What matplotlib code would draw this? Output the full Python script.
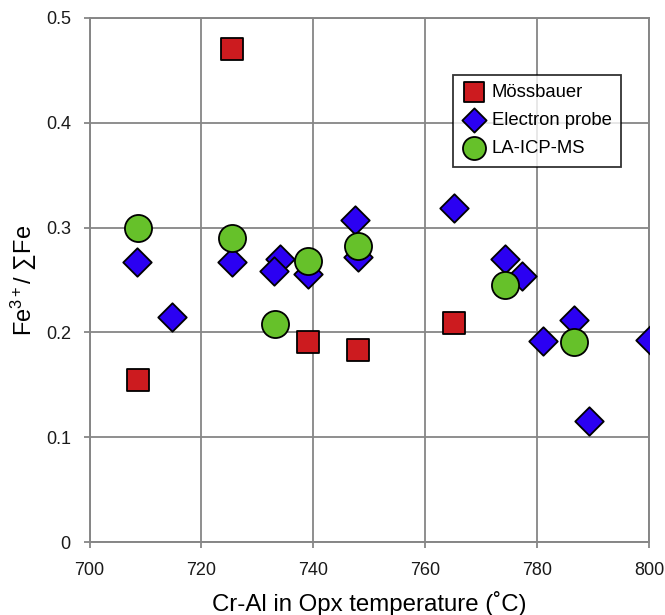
import matplotlib
matplotlib.use("Agg")
import matplotlib.pyplot as plt
from matplotlib.ticker import MultipleLocator, FormatStrFormatter

plt.rcParams['font.family'] = ['Liberation Sans', 'DejaVu Sans']
plt.rcParams['mathtext.fontset'] = 'custom'
plt.rcParams['mathtext.rm'] = 'Liberation Sans'
plt.rcParams['mathtext.it'] = 'Liberation Sans:italic'
plt.rcParams['mathtext.bf'] = 'Liberation Sans:bold'
plt.rcParams['mathtext.default'] = 'regular'

# Fe3+/sum Fe against Cr-Al in Opx temperature, by method
moss_T = [708.6, 725.5, 739.0, 747.9, 765.1]
moss_fe = [0.155, 0.470, 0.191, 0.183, 0.209]

probe_T = [708.5, 714.7, 725.5, 734.0, 733.0, 739.0, 747.5, 747.9,
           765.1, 774.2, 777.2, 786.6, 781.0, 800.1, 789.2]
probe_fe = [0.267, 0.215, 0.267, 0.270, 0.259, 0.256, 0.307, 0.272,
            0.319, 0.270, 0.254, 0.212, 0.192, 0.193, 0.116]

icp_T = [708.6, 725.5, 733.1, 739.0, 747.9, 774.2, 786.6]
icp_fe = [0.300, 0.290, 0.208, 0.268, 0.282, 0.245, 0.191]

fig = plt.figure(figsize=(6.65, 6.15), dpi=100)
ax = fig.add_axes([0.1346, 0.1184, 0.8418, 0.8528])

grey = '#868686'
ax.scatter(moss_T, moss_fe, marker='s', s=16.5**2, c='#cc1b1f',
           edgecolors='black', linewidths=1.3, zorder=3, label='Mössbauer')
ax.scatter(probe_T, probe_fe, marker='D', s=14.5**2, c='#2b00f2',
           edgecolors='black', linewidths=1.3, zorder=3, label='Electron probe')
ax.scatter(icp_T, icp_fe, marker='o', s=19.5**2, c='#66c12a',
           edgecolors='black', linewidths=1.3, zorder=4, label='LA-ICP-MS')

ax.set_xlim(700, 800)
ax.set_ylim(0, 0.5)
ax.xaxis.set_major_locator(MultipleLocator(20))
ax.yaxis.set_major_locator(MultipleLocator(0.1))
ax.yaxis.set_major_formatter(FormatStrFormatter('%g'))
ax.grid(True, color=grey, linewidth=1.3)
ax.set_axisbelow(True)
for sp in ax.spines.values():
    sp.set_color(grey)
    sp.set_linewidth(1.4)
ax.tick_params(direction='out', length=4.5, width=1.3, color=grey,
               labelsize=13, labelcolor='#1a1a1a')
ax.tick_params(axis='x', pad=10)
ax.tick_params(axis='y', pad=9)

ax.set_xlabel('Cr-Al in Opx temperature (˚C)', fontsize=17.3, labelpad=8.5)
ax.set_ylabel('Fe$^{3+}$/ ∑Fe', fontsize=17, labelpad=5)

leg = ax.legend(loc='upper left', bbox_to_anchor=(0.649, 0.891),
                fontsize=13.3, frameon=True, fancybox=False,
                borderpad=0.5, labelspacing=0.6, handletextpad=0.3,
                handlelength=1.3, borderaxespad=0, markerscale=0.85)
leg.get_frame().set_edgecolor('black')
leg.get_frame().set_linewidth(1.3)

fig.savefig('out.png', dpi=100)
